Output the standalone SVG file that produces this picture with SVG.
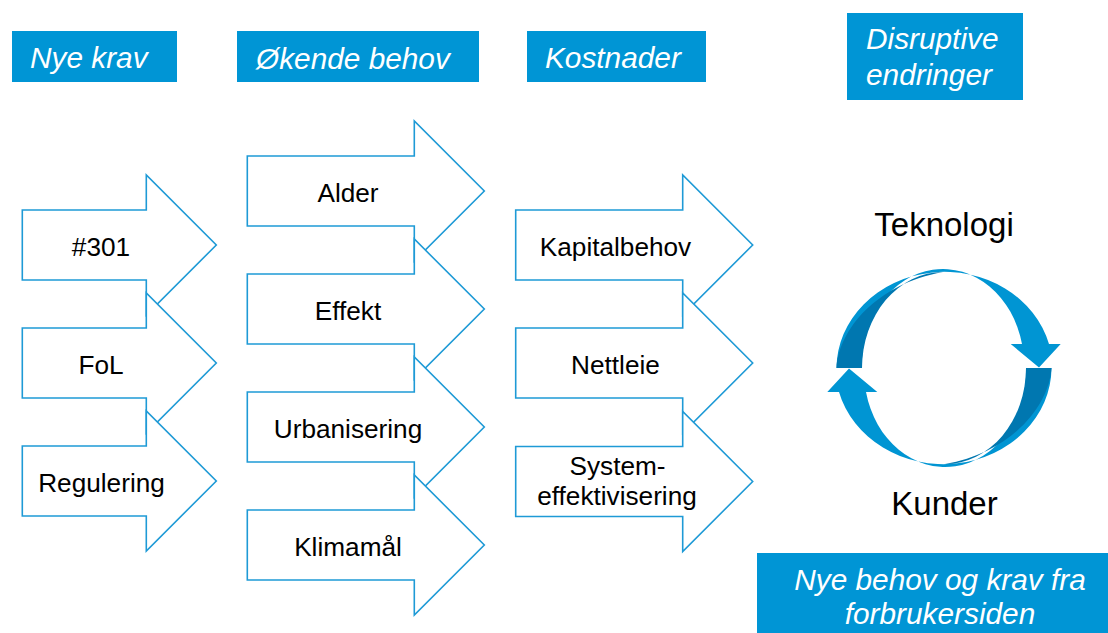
<svg xmlns="http://www.w3.org/2000/svg" xmlns:xlink="http://www.w3.org/1999/xlink" width="1108" height="633" viewBox="0 0 1108 633">
  <style>
    .hdr { fill: #0095d5; }
    .hdr-text { font-family: "Liberation Sans", Arial, sans-serif; font-size: 29.8px; font-style: italic; fill: #ffffff; }
    .blk { fill: #ffffff; stroke: #1e9ad6; stroke-width: 1.6; stroke-linejoin: miter; }
    .lbl { font-family: "Liberation Sans", Arial, sans-serif; font-size: 26.2px; fill: #000000; text-anchor: middle; }
    .big { font-family: "Liberation Sans", Arial, sans-serif; font-size: 33px; fill: #000000; text-anchor: middle; }
    .ring-light { fill: #0095d3; }
    .ring-dark { fill: #0077b0; }
  </style>
  <defs>
    <!-- block arrows, origin at left end of the body, on the axis of the tip -->
    <path id="arrow-short" d="M0,-35 H124 V-70 L194,0 L124,70 V35 H0 Z"/>
    <path id="arrow-long" d="M0,-35 H167 V-70 L237,0 L167,70 V35 H0 Z"/>
    <!-- upper half of the cycle: ribbon from the left end over the top to a downward head -->
    <g id="half-cycle">
      <path class="ring-light" d="M836.5,368 A108,96.5 0 0 1 1049,344 L1060.7,344 L1039,367.5 L1010.7,344 L1022,344 A81,96 0 0 0 862,368 Z"/>
      <path class="ring-dark" d="M836.5,368 C839,330 876,284 943,272 A81,96 0 0 0 862,368 Z"/>
    </g>
  </defs>

  <rect width="1108" height="633" fill="#ffffff"/>

  <!-- column headers -->
  <g id="hdr-nye-krav">
    <rect class="hdr" x="12" y="31" width="165" height="51"/>
    <text class="hdr-text" x="30" y="68">Nye krav</text>
  </g>
  <g id="hdr-okende-behov">
    <rect class="hdr" x="237" y="31" width="242" height="51"/>
    <text class="hdr-text" x="256" y="69">Økende behov</text>
  </g>
  <g id="hdr-kostnader">
    <rect class="hdr" x="527" y="31" width="179" height="51"/>
    <text class="hdr-text" x="545" y="68">Kostnader</text>
  </g>
  <g id="hdr-disruptive">
    <rect class="hdr" x="847" y="13" width="176" height="87"/>
    <text class="hdr-text" x="866" y="48.5">Disruptive</text>
    <text class="hdr-text" x="866" y="84.5">endringer</text>
  </g>
  <g id="hdr-forbruker">
    <rect class="hdr" x="757" y="553" width="351" height="80"/>
    <text class="hdr-text" x="940" y="589.5" text-anchor="middle">Nye behov og krav fra</text>
    <text class="hdr-text" x="940" y="623.5" text-anchor="middle">forbrukersiden</text>
  </g>

  <!-- column 1: Nye krav -->
  <g id="a-301">
    <use xlink:href="#arrow-short" class="blk" transform="translate(22.3,245)"/>
    <text class="lbl" x="101" y="256">#301</text>
  </g>
  <g id="a-fol">
    <use xlink:href="#arrow-short" class="blk" transform="translate(22.3,363)"/>
    <text class="lbl" x="101" y="374">FoL</text>
  </g>
  <g id="a-regulering">
    <use xlink:href="#arrow-short" class="blk" transform="translate(22.3,481)"/>
    <text class="lbl" x="101.5" y="492">Regulering</text>
  </g>

  <!-- column 2: Økende behov -->
  <g id="a-alder">
    <use xlink:href="#arrow-long" class="blk" transform="translate(247.3,191)"/>
    <text class="lbl" x="348" y="201.5">Alder</text>
  </g>
  <g id="a-effekt">
    <use xlink:href="#arrow-long" class="blk" transform="translate(247.3,309)"/>
    <text class="lbl" x="348" y="319.5">Effekt</text>
  </g>
  <g id="a-urbanisering">
    <use xlink:href="#arrow-long" class="blk" transform="translate(247.3,427)"/>
    <text class="lbl" x="348" y="438">Urbanisering</text>
  </g>
  <g id="a-klimamal">
    <use xlink:href="#arrow-long" class="blk" transform="translate(247.3,545)"/>
    <text class="lbl" x="348" y="556">Klimamål</text>
  </g>

  <!-- column 3: Kostnader -->
  <g id="a-kapitalbehov">
    <use xlink:href="#arrow-long" class="blk" transform="translate(515.7,245)"/>
    <text class="lbl" x="615.5" y="256">Kapitalbehov</text>
  </g>
  <g id="a-nettleie">
    <use xlink:href="#arrow-long" class="blk" transform="translate(515.7,363)"/>
    <text class="lbl" x="615.5" y="373.5">Nettleie</text>
  </g>
  <g id="a-systemeffektivisering">
    <use xlink:href="#arrow-long" class="blk" transform="translate(515.7,481.5)"/>
    <text class="lbl" x="617.5" y="475">System-</text>
    <text class="lbl" x="617" y="505">effektivisering</text>
  </g>

  <!-- technology / customer cycle -->
  <g id="cycle-labels">
    <text class="big" x="944" y="236">Teknologi</text>
    <text class="big" x="944.5" y="515">Kunder</text>
  </g>
  <g id="connectors">
    <use xlink:href="#half-cycle"/>
    <use xlink:href="#half-cycle" transform="rotate(180,944,368)"/>
  </g>
</svg>
